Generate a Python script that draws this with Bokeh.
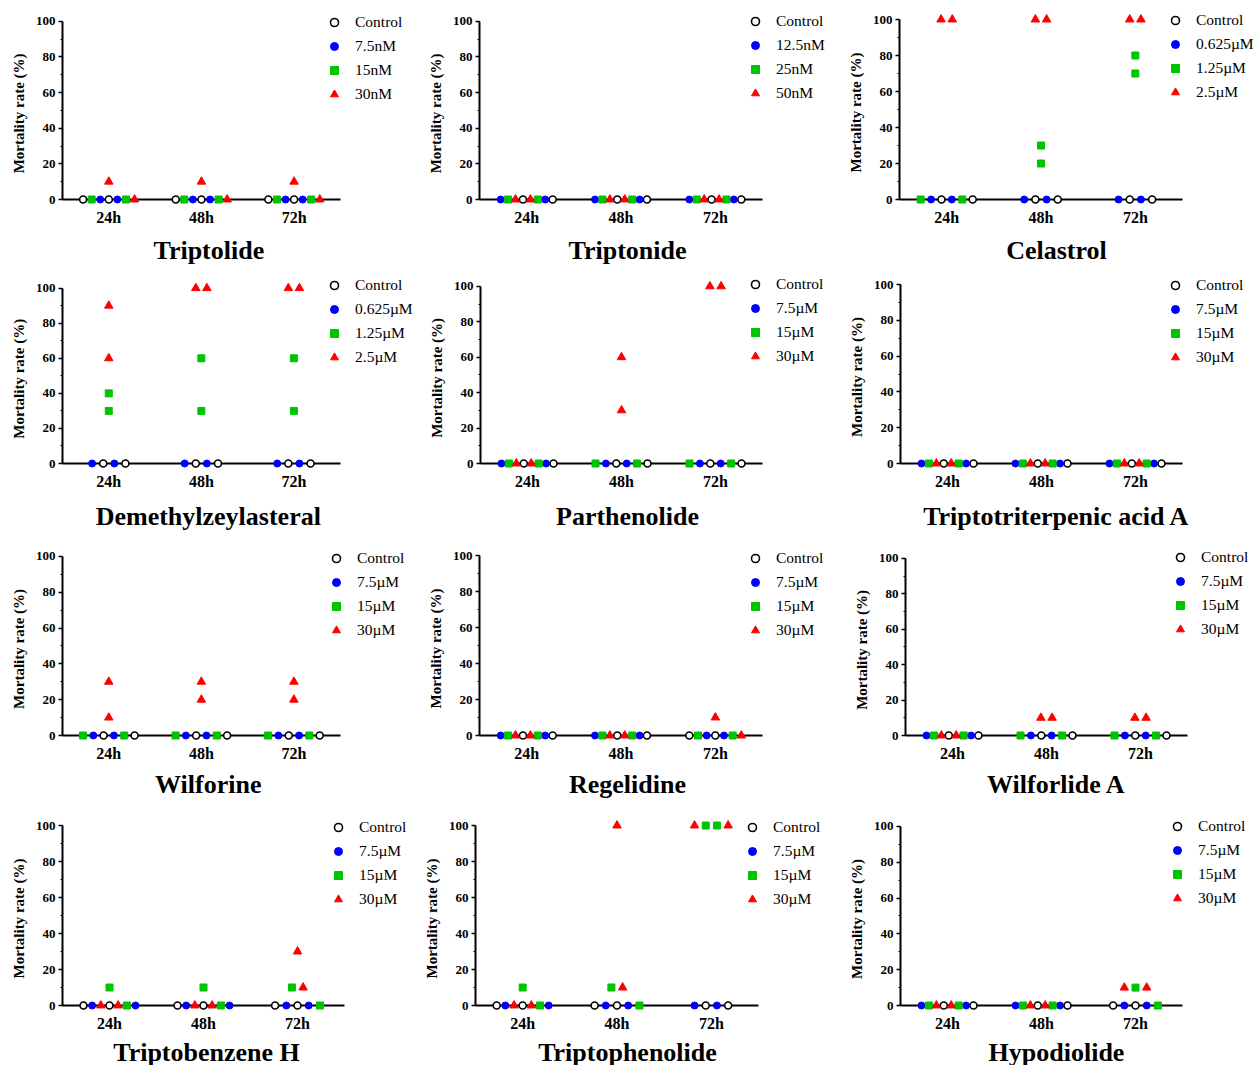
from bokeh.plotting import figure
from bokeh.layouts import column, row
from bokeh.models import (Range1d, FixedTicker, SingleIntervalTicker, Legend,
                          LegendItem, LinearAxis, Spacer)
from bokeh.embed import file_html
from bokeh.resources import INLINE

# ---------------------------------------------------------------- data
TIME_LABELS = ["24h", "48h", "72h"]
Y_LABEL = "Mortality rate (%)"

# values[series][time][replicate]; series = Control, low, mid, high dose
TRIPTOLIDE_DOSES = ["Control", "7.5nM", "15nM", "30nM"]
TRIPTOLIDE_VALUES = [
    [[0, 0], [0, 0], [0, 0]],
    [[0, 0], [0, 0], [0, 0]],
    [[0, 0], [0, 0], [0, 0]],
    [[0, 10], [0, 10], [0, 10]],
]

TRIPTONIDE_DOSES = ["Control", "12.5nM", "25nM", "50nM"]
TRIPTONIDE_VALUES = [
    [[0, 0], [0, 0], [0, 0]],
    [[0, 0], [0, 0], [0, 0]],
    [[0, 0], [0, 0], [0, 0]],
    [[0, 0], [0, 0], [0, 0]],
]

CELASTROL_DOSES = ["Control", "0.625\u00b5M", "1.25\u00b5M", "2.5\u00b5M"]
CELASTROL_VALUES = [
    [[0, 0], [0, 0], [0, 0]],
    [[0, 0], [0, 0], [0, 0]],
    [[0, 0], [20, 30], [70, 80]],
    [[100, 100], [100, 100], [100, 100]],
]

DEMETHYLZEYLASTERAL_DOSES = ["Control", "0.625\u00b5M", "1.25\u00b5M", "2.5\u00b5M"]
DEMETHYLZEYLASTERAL_VALUES = [
    [[0, 0], [0, 0], [0, 0]],
    [[0, 0], [0, 0], [0, 0]],
    [[30, 40], [30, 60], [30, 60]],
    [[60, 90], [100, 100], [100, 100]],
]

PARTHENOLIDE_DOSES = ["Control", "7.5\u00b5M", "15\u00b5M", "30\u00b5M"]
PARTHENOLIDE_VALUES = [
    [[0, 0], [0, 0], [0, 0]],
    [[0, 0], [0, 0], [0, 0]],
    [[0, 0], [0, 0], [0, 0]],
    [[0, 0], [30, 60], [100, 100]],
]

TRIPTOTRITERPENIC_DOSES = ["Control", "7.5\u00b5M", "15\u00b5M", "30\u00b5M"]
TRIPTOTRITERPENIC_VALUES = [
    [[0, 0], [0, 0], [0, 0]],
    [[0, 0], [0, 0], [0, 0]],
    [[0, 0], [0, 0], [0, 0]],
    [[0, 0], [0, 0], [0, 0]],
]

WILFORINE_DOSES = ["Control", "7.5\u00b5M", "15\u00b5M", "30\u00b5M"]
WILFORINE_VALUES = [
    [[0, 0], [0, 0], [0, 0]],
    [[0, 0], [0, 0], [0, 0]],
    [[0, 0], [0, 0], [0, 0]],
    [[10, 30], [20, 30], [20, 30]],
]

REGELIDINE_DOSES = ["Control", "7.5\u00b5M", "15\u00b5M", "30\u00b5M"]
REGELIDINE_VALUES = [
    [[0, 0], [0, 0], [0, 0]],
    [[0, 0], [0, 0], [0, 0]],
    [[0, 0], [0, 0], [0, 0]],
    [[0, 0], [0, 0], [0, 10]],
]

WILFORLIDE_DOSES = ["Control", "7.5\u00b5M", "15\u00b5M", "30\u00b5M"]
WILFORLIDE_VALUES = [
    [[0, 0], [0, 0], [0, 0]],
    [[0, 0], [0, 0], [0, 0]],
    [[0, 0], [0, 0], [0, 0]],
    [[0, 0], [10, 10], [10, 10]],
]

TRIPTOBENZENE_DOSES = ["Control", "7.5\u00b5M", "15\u00b5M", "30\u00b5M"]
TRIPTOBENZENE_VALUES = [
    [[0, 0], [0, 0], [0, 0]],
    [[0, 0], [0, 0], [0, 0]],
    [[0, 10], [0, 10], [0, 10]],
    [[0, 0], [0, 0], [10, 30]],
]

TRIPTOPHENOLIDE_DOSES = ["Control", "7.5\u00b5M", "15\u00b5M", "30\u00b5M"]
TRIPTOPHENOLIDE_VALUES = [
    [[0, 0], [0, 0], [0, 0]],
    [[0, 0], [0, 0], [0, 0]],
    [[0, 10], [0, 10], [100, 100]],
    [[0, 0], [10, 100], [100, 100]],
]

HYPODIOLIDE_DOSES = ["Control", "7.5\u00b5M", "15\u00b5M", "30\u00b5M"]
HYPODIOLIDE_VALUES = [
    [[0, 0], [0, 0], [0, 0]],
    [[0, 0], [0, 0], [0, 0]],
    [[0, 0], [0, 0], [0, 10]],
    [[0, 0], [0, 0], [10, 10]],
]

PANELS = [
    ("Triptolide", TRIPTOLIDE_DOSES, TRIPTOLIDE_VALUES),
    ("Triptonide", TRIPTONIDE_DOSES, TRIPTONIDE_VALUES),
    ("Celastrol", CELASTROL_DOSES, CELASTROL_VALUES),
    ("Demethylzeylasteral", DEMETHYLZEYLASTERAL_DOSES, DEMETHYLZEYLASTERAL_VALUES),
    ("Parthenolide", PARTHENOLIDE_DOSES, PARTHENOLIDE_VALUES),
    ("Triptotriterpenic acid A", TRIPTOTRITERPENIC_DOSES, TRIPTOTRITERPENIC_VALUES),
    ("Wilforine", WILFORINE_DOSES, WILFORINE_VALUES),
    ("Regelidine", REGELIDINE_DOSES, REGELIDINE_VALUES),
    ("Wilforlide A", WILFORLIDE_DOSES, WILFORLIDE_VALUES),
    ("Triptobenzene H", TRIPTOBENZENE_DOSES, TRIPTOBENZENE_VALUES),
    ("Triptophenolide", TRIPTOPHENOLIDE_DOSES, TRIPTOPHENOLIDE_VALUES),
    ("Hypodiolide", HYPODIOLIDE_DOSES, HYPODIOLIDE_VALUES),
]

# ---------------------------------------------------------------- layout / style
OFFSET = 8                        # empty band left and top of the grid
COL_W = [413, 413, 426]
ROW_H = [267, 267, 270, 262]      # the last row runs past the window edge, as in the source
# per panel axis box: (left, axis length x, top, axis length y) in px
AXES = [
    (50, 281, 13, 180), (58, 283, 13, 180), (65, 283, 11, 180),
    (51, 280, 13, 180), (59, 282, 11, 180), (66, 282, 9, 179),
    (51, 280, 14, 180), (58, 283, 13, 180), (71, 282, 16, 179),
    (54, 282, 13, 180), (54, 283, 13, 180), (66, 282, 14, 180),
]
# per panel legend: (marker centre from axis start, first row below the 100 line) in px
LEGEND_POS = [
    (272, 2.7), (276, 2.3), (276, 1.3),
    (272, 1.7), (275, 1.0), (275, 1.0),
    (274, 2.6), (276, 2.7), (275, 1.3),
    (276, 1.7), (277, 1.7), (277, 1.3),
]
FRAME_TOP = 0                     # frame starts this far below the figure top
FRAME_RIGHT = 1
TITLE_CENTER = [198, 206, 222]   # figure-local x of the compound name, per column
TITLE_STANDOFF = [7, 9, 5, 3]
YLABEL_DROP = 3                   # y-label centre below the axis centre, px
FONT = "Liberation Serif"
COLORS = ["black", "#0000FF", "#00C400", "#FF0000"]
MARKERS = ["circle", "circle", "square", "triangle"]
SIZES = [7, 7, 7, 8.5]

PAGE_CSS = ("{% block postamble %}<style>html, body { overflow: hidden; }</style>"
            "{% endblock %}")


def swarm(values, axis_w):
    """Spread points that share a value inside a time group (column scatter)."""
    px_per_unit = axis_w / 3.0
    xs = [[] for _ in range(4)]
    ys = [[] for _ in range(4)]
    for t in range(3):
        levels = sorted(set(v for s in range(4) for v in values[s][t]))
        for y in levels:
            members = [[r for r, v in enumerate(values[s][t]) if v == y] for s in range(4)]
            order = []
            if members[0]:
                order.append((0, members[0][0]))
            high_first = members[0] and len(members[3]) == len(values[3][t])
            for s in ([3, 2, 1] if high_first else [1, 2, 3]):
                order += [(s, r) for r in members[s]]
            order += [(0, r) for r in members[0][1:]]
            n = len(order)
            slots = [0]
            k = 1
            while len(slots) < n:
                slots.append(k)
                if len(slots) < n:
                    slots.append(-k)
                k += 1
            mean = sum(slots) / n
            step_px = 11.2 if n < 2 else min(11.2, 52.0 / (n - 1))
            for (s, r), sl in zip(order, slots):
                xs[s].append(t + 1 + (sl - mean) * step_px / px_per_unit)
                ys[s].append(y)
    return xs, ys


def label_axis(tick, text, size, standoff, orientation="horizontal"):
    """An axis that only carries one centred text (panel name / y label)."""
    return LinearAxis(
        ticker=FixedTicker(ticks=[tick]), major_label_overrides={tick: text},
        axis_line_color=None, major_tick_line_color=None,
        minor_tick_line_color=None, major_tick_out=0, major_tick_in=0,
        minor_tick_out=0, minor_tick_in=0, major_label_standoff=standoff,
        major_label_orientation=orientation, major_label_text_font=FONT,
        major_label_text_font_style="bold", major_label_text_font_size=size,
        major_label_text_color="black")


def make_panel(idx, name, doses, values):
    col, rw = idx % 3, idx // 3
    left, axis_w, top, axis_h = AXES[idx]
    leg_dx, leg_dy = LEGEND_POS[idx]
    w, h = COL_W[col], ROW_H[rw]
    bottom = h - top - axis_h
    frame_w = w - left - FRAME_RIGHT
    frame_h = h - FRAME_TOP - bottom
    ppx = axis_w / 3.0            # px per x unit
    ppy = axis_h / 100.0          # px per y unit

    p = figure(width=w, height=h,
               x_range=Range1d(0.5, 0.5 + frame_w / ppx),
               y_range=Range1d(0, 100 + (top - FRAME_TOP) / ppy),
               output_backend="svg", toolbar_location=None, title=None,
               min_border_left=left, min_border_right=FRAME_RIGHT,
               min_border_top=FRAME_TOP, min_border_bottom=bottom)
    p.outline_line_color = None
    p.xgrid.visible = False
    p.ygrid.visible = False
    p.background_fill_color = "white"

    xs, ys = swarm(values, axis_w)
    rends = []
    for s in range(4):
        fill = "white" if s == 0 else COLORS[s]
        r = p.scatter(xs[s], ys[s], marker=MARKERS[s], size=SIZES[s],
                      fill_color=fill, line_color=COLORS[s],
                      line_width=1.6 if s == 0 else 1, level="overlay")
        rends.append(r)

    # x axis
    xa = p.xaxis[0]
    xa.bounds = (0.5, 3.5)
    xa.ticker = FixedTicker(ticks=[1, 2, 3])
    xa.major_label_overrides = {i + 1: lab for i, lab in enumerate(TIME_LABELS)}
    xa.major_tick_out = 0
    xa.major_tick_in = 0
    xa.minor_tick_out = 0
    xa.minor_tick_in = 0
    xa.major_label_standoff = 9
    xa.major_label_text_font = FONT
    xa.major_label_text_font_style = "bold"
    xa.major_label_text_font_size = "16px"
    xa.major_label_text_color = "black"
    xa.axis_line_width = 2
    xa.axis_line_color = "black"

    # y axis
    ya = p.yaxis[0]
    ya.bounds = (0, 100)
    ya.ticker = SingleIntervalTicker(interval=20, num_minor_ticks=2)
    ya.major_tick_out = 4
    ya.major_tick_in = 0
    ya.minor_tick_out = 2
    ya.minor_tick_in = 0
    ya.major_tick_line_width = 1.5
    ya.minor_tick_line_width = 1
    ya.major_label_standoff = 3
    ya.major_label_text_font = FONT
    ya.major_label_text_font_style = "bold"
    ya.major_label_text_font_size = "13px"
    ya.major_label_text_color = "black"
    ya.axis_line_width = 2
    ya.axis_line_color = "black"

    # y-axis title, centred a little below the middle of the 0-100 axis
    cy = round(50 - YLABEL_DROP / ppy, 4)
    p.add_layout(label_axis(cy, Y_LABEL, "15px", 5, "vertical"), "left")

    # compound name, centred under the panel
    cx = round(0.5 + (TITLE_CENTER[col] - left) / ppx, 4)
    p.add_layout(label_axis(cx, name, "26px", TITLE_STANDOFF[rw]), "below")

    # legend (inside the widened frame, so it is not clipped)
    spacing, item_h = 4, 20
    leg_h = 4 * item_h + 3 * spacing
    leg_top = (top - FRAME_TOP) + leg_dy - item_h / 2
    legend = Legend(
        items=[LegendItem(label=doses[s], renderers=[rends[s]]) for s in range(4)],
        location=(leg_dx - 10, frame_h - leg_top - leg_h),
        orientation="vertical", padding=0, spacing=spacing, margin=0,
        glyph_width=20, glyph_height=item_h, label_height=item_h,
        label_standoff=11, background_fill_alpha=0, border_line_alpha=0,
        label_text_font=FONT, label_text_font_size="15.5px",
        label_text_color="black")
    p.add_layout(legend)
    return p


figs = [make_panel(i, *panel) for i, panel in enumerate(PANELS)]
grid = column(*[row(*figs[3 * r:3 * r + 3]) for r in range(4)])
layout = column(Spacer(height=OFFSET),
                row(Spacer(width=OFFSET), grid))

open("out.html", "w").write(file_html(layout, INLINE, template=PAGE_CSS))
